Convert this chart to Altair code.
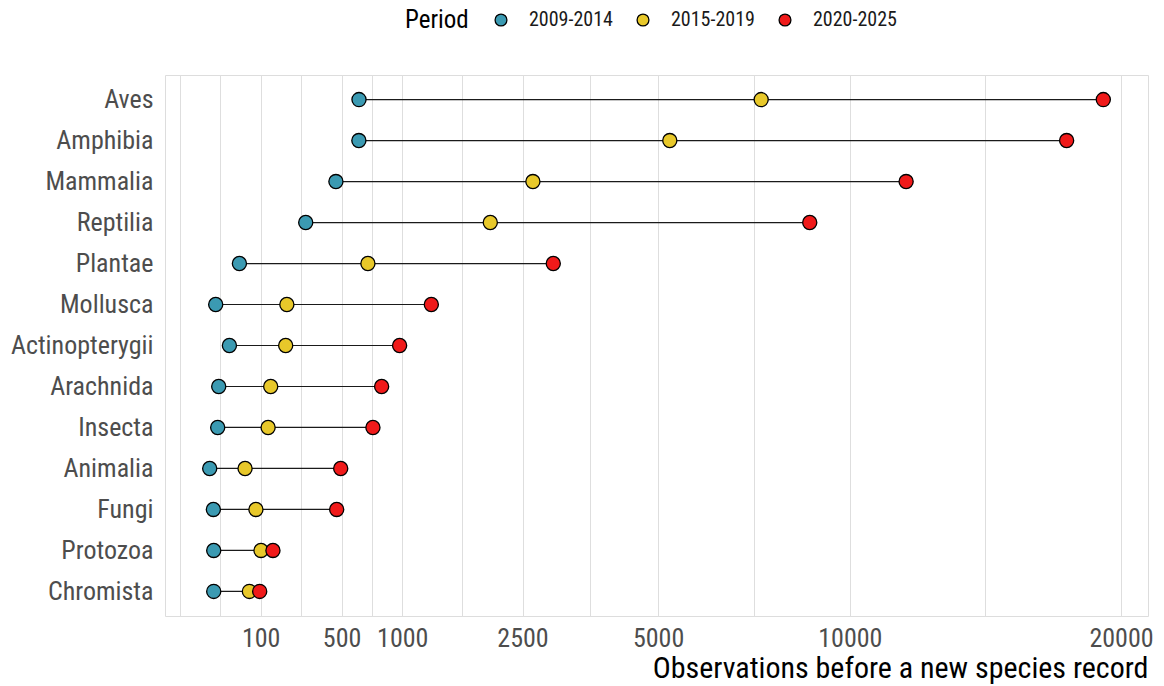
import altair as alt
import pandas as pd

CATEGORIES = ["Aves", "Amphibia", "Mammalia", "Reptilia", "Plantae", "Mollusca",
              "Actinopterygii", "Arachnida", "Insecta", "Animalia", "Fungi",
              "Protozoa", "Chromista"]
P2009_2014 = [626, 625, 462, 285, 45.6, 9.8, 27.3, 12.9, 11.8, 4.9, 7.7, 8.0, 8.0]
P2015_2019 = [7475, 5256, 2661, 2032, 696, 196, 191, 133, 124, 58, 86, 101, 68.5]
P2020_2025 = [19244, 17721, 11794, 8813, 2992, 1301, 975, 811, 737, 494, 467, 141, 97]
PERIODS = ["2009-2014", "2015-2019", "2020-2025"]
COLORS = ["#3B9AB2", "#E8C82A", "#F01A1A"]
MAJOR_BREAKS = [100, 500, 1000, 2500, 5000, 10000, 20000]
MINOR_BREAKS = [-5.57, 14.59, 261.8, 728.55, 1665.57, 3642.77, 7285.53, 14571.07]
X_DOMAIN = [-21.3, 21185]

FONT = "Roboto Condensed, Liberation Sans Narrow, DejaVu Sans Condensed, Roboto, sans-serif"

seg = pd.DataFrame({"category": CATEGORIES, "start": P2009_2014, "end": P2020_2025})
rows = []
for series, name in zip([P2009_2014, P2015_2019, P2020_2025], PERIODS):
    for c, v in zip(CATEGORIES, series):
        rows.append({"category": c, "period": name, "value": v})
pts = pd.DataFrame(rows)

major_str = "[" + ",".join(str(b) for b in MAJOR_BREAKS) + "]"

xscale = alt.Scale(type="sqrt", domain=X_DOMAIN, zero=False, nice=False)
yscale = alt.Scale(type="point", padding=0.6)

yenc = alt.Y("category:N", sort=CATEGORIES, scale=yscale,
             axis=alt.Axis(title=None, ticks=False, domain=False, labelFontSize=26,
                           labelColor="#4D4D4D", labelPadding=12, labelLimit=400,
                           labelFont=FONT, gridColor="#DEDEDE", gridWidth=1))

rules = alt.Chart(seg).mark_rule(color="#1A1A1A", strokeWidth=1.2).encode(
    y=yenc,
    x=alt.X("start:Q", scale=xscale,
            axis=alt.Axis(values=MAJOR_BREAKS + MINOR_BREAKS,
                          labelExpr="indexof(" + major_str + ", datum.value) >= 0 ? format(datum.value, 'd') : ''",
                          labelOverlap=False, labelFlush=False, ticks=False, domain=False,
                          labelFontSize=26, labelColor="#4D4D4D", labelPadding=9,
                          labelFont=FONT, gridColor="#DEDEDE", gridWidth=1,
                          title="Observations before a new species record",
                          titleFont=FONT, titleFontSize=30, titleFontWeight="normal",
                          titleColor="#000000", titleAnchor="end", titleAlign="right",
                          titleBaseline="alphabetic", titleX=983, titleY=61)),
    x2="end:Q",
)

points = alt.Chart(pts).mark_point(filled=True, shape="circle", size=200, opacity=1,
                                   stroke="#000000", strokeWidth=1.3).encode(
    y=alt.Y("category:N", sort=CATEGORIES, scale=yscale),
    x=alt.X("value:Q", scale=xscale),
    fill=alt.Fill("period:N", scale=alt.Scale(domain=PERIODS, range=COLORS),
                  legend=alt.Legend(title="Period", orient="none", legendX=240, legendY=-65,
                                    direction="horizontal", titleOrient="left",
                                    titleFont=FONT, titleFontSize=25, titleFontWeight="normal",
                                    titleColor="#000000", titlePadding=22,
                                    labelFont=FONT, labelFontSize=20, labelColor="#1A1A1A",
                                    labelOffset=18, columnPadding=20, symbolType="circle",
                                    symbolSize=140, symbolStrokeColor="#000000",
                                    symbolStrokeWidth=1.3, symbolOpacity=1)),
)

chart = (rules + points).properties(
    width=983, height=541,
    autosize=alt.AutoSizeParams(type="none"),
    padding={"left": 157, "top": 67, "right": 8, "bottom": 70},
).configure_view(stroke=None).configure(background="#FFFFFF")

chart.save("out.html", embed_options={"renderer": "svg", "actions": False})
